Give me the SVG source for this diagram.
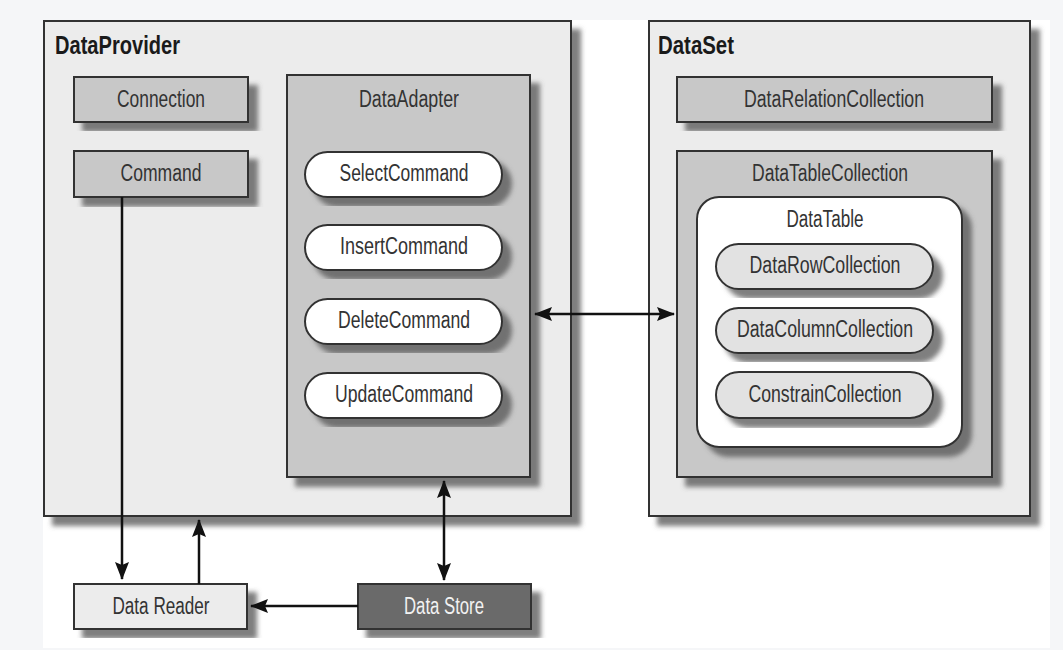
<svg xmlns="http://www.w3.org/2000/svg" width="1063" height="650" viewBox="0 0 1063 650">
<defs>
<filter id="sh" x="-10%" y="-10%" width="130%" height="130%">
<feDropShadow dx="9" dy="9" stdDeviation="2.5" flood-color="#555" flood-opacity="0.75"/>
</filter>
<marker id="ah" viewBox="0 0 18 14" refX="17" refY="7" markerWidth="18" markerHeight="14" markerUnits="userSpaceOnUse" orient="auto-start-reverse">
<path d="M0,0 L18,7 L0,14 L3,7 Z" fill="#111"/>
</marker>
</defs>
<style>
text{font-family:"Liberation Sans",Arial,sans-serif;font-size:23px;fill:#333;text-anchor:middle}
.title{font-weight:bold;font-size:25px;fill:#1a1a1a;text-anchor:start}
.outer{fill:#ececec;stroke:#333;stroke-width:2}
.box{fill:#c8c8c8;stroke:#333;stroke-width:2}
.pill{fill:#fff;stroke:#333;stroke-width:2}
.gpill{fill:#e2e2e2;stroke:#333;stroke-width:2}
.sh{filter:url(#sh)}
.conn{stroke:#111;stroke-width:2.5;fill:none}
</style>
<rect x="0" y="0" width="1063" height="650" fill="#f5f6f8"/>
<rect x="43" y="20" width="1007" height="628" fill="#fff"/>

<g id="dataprovider">
<rect class="outer sh" x="44" y="21" width="527" height="495"/>
<text class="title" x="55" y="54" textLength="125" lengthAdjust="spacingAndGlyphs">DataProvider</text>
</g>
<g id="connection">
<rect class="box sh" x="74" y="77" width="174" height="45"/>
<text x="161" y="107" textLength="88" lengthAdjust="spacingAndGlyphs">Connection</text>
</g>
<g id="command">
<rect class="box sh" x="74" y="151" width="174" height="46"/>
<text x="161" y="181" textLength="81" lengthAdjust="spacingAndGlyphs">Command</text>
</g>
<g id="dataadapter">
<rect class="box sh" x="287" y="75" width="243" height="402"/>
<text x="409" y="107" textLength="100" lengthAdjust="spacingAndGlyphs">DataAdapter</text>
</g>
<g id="selectcommand">
<rect class="pill sh" x="305" y="152" width="197" height="45" rx="22.5"/>
<text x="404" y="181" textLength="129" lengthAdjust="spacingAndGlyphs">SelectCommand</text>
</g>
<g id="insertcommand">
<rect class="pill sh" x="305" y="225" width="197" height="45" rx="22.5"/>
<text x="404" y="254" textLength="128" lengthAdjust="spacingAndGlyphs">InsertCommand</text>
</g>
<g id="deletecommand">
<rect class="pill sh" x="305" y="299" width="197" height="45" rx="22.5"/>
<text x="404" y="328" textLength="132" lengthAdjust="spacingAndGlyphs">DeleteCommand</text>
</g>
<g id="updatecommand">
<rect class="pill sh" x="305" y="373" width="197" height="45" rx="22.5"/>
<text x="404" y="402" textLength="138" lengthAdjust="spacingAndGlyphs">UpdateCommand</text>
</g>

<g id="dataset">
<rect class="outer sh" x="649" y="21" width="381" height="495"/>
<text class="title" x="658" y="54" textLength="76" lengthAdjust="spacingAndGlyphs">DataSet</text>
</g>
<g id="datarelationcollection">
<rect class="box sh" x="677" y="77" width="315" height="45"/>
<text x="834" y="107" textLength="180" lengthAdjust="spacingAndGlyphs">DataRelationCollection</text>
</g>
<g id="datatablecollection">
<rect class="box sh" x="677" y="151" width="315" height="326"/>
<text x="830" y="181" textLength="156" lengthAdjust="spacingAndGlyphs">DataTableCollection</text>
</g>
<g id="datatable">
<rect class="pill sh" x="697" y="197" width="265" height="250" rx="22"/>
<text x="825" y="227" textLength="77" lengthAdjust="spacingAndGlyphs">DataTable</text>
</g>
<g id="datarowcollection">
<rect class="gpill sh" x="716" y="244" width="217" height="45" rx="22.5"/>
<text x="825" y="273" textLength="151" lengthAdjust="spacingAndGlyphs">DataRowCollection</text>
</g>
<g id="datacolumncollection">
<rect class="gpill sh" x="716" y="308" width="217" height="45" rx="22.5"/>
<text x="825" y="337" textLength="176" lengthAdjust="spacingAndGlyphs">DataColumnCollection</text>
</g>
<g id="constraincollection">
<rect class="gpill sh" x="716" y="372" width="217" height="46" rx="23"/>
<text x="825" y="402" textLength="153" lengthAdjust="spacingAndGlyphs">ConstrainCollection</text>
</g>

<g id="datareader">
<rect class="outer sh" x="74" y="584" width="173" height="45"/>
<text x="161" y="614" textLength="97" lengthAdjust="spacingAndGlyphs">Data Reader</text>
</g>
<g id="datastore">
<rect class="sh" x="358" y="584" width="173" height="45" fill="#6b6b6b" stroke="#333" stroke-width="2"/>
<text x="444" y="614" textLength="80" lengthAdjust="spacingAndGlyphs" style="fill:#f2f2f2">Data Store</text>
</g>

<g id="connectors">
<line class="conn" x1="122" y1="197" x2="122" y2="579" marker-end="url(#ah)"/>
<line class="conn" x1="199" y1="584" x2="199" y2="520" marker-end="url(#ah)"/>
<line class="conn" x1="444" y1="481" x2="444" y2="580" marker-start="url(#ah)" marker-end="url(#ah)"/>
<line class="conn" x1="358" y1="606" x2="251" y2="606" marker-end="url(#ah)"/>
<line class="conn" x1="535" y1="314" x2="674" y2="314" marker-start="url(#ah)" marker-end="url(#ah)"/>
</g>
</svg>
